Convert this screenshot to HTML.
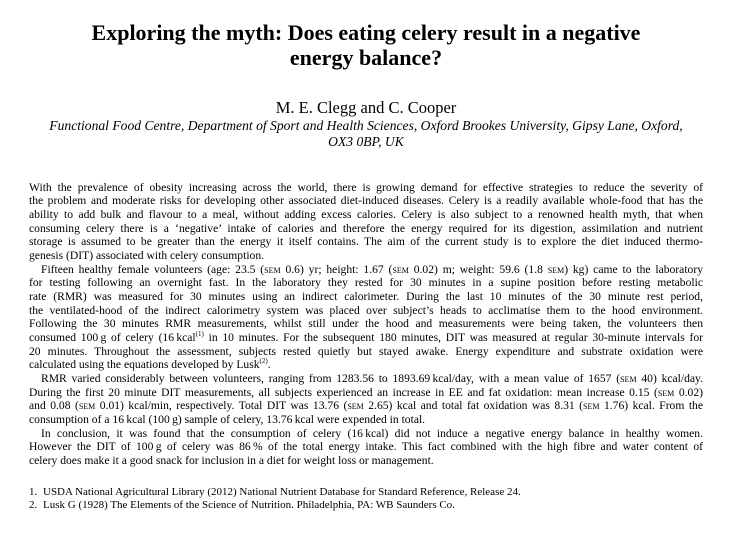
<!DOCTYPE html>
<html><head><meta charset="utf-8">
<style>
html,body{margin:0;padding:0;background:#fff;}
body{width:732px;height:545px;position:relative;overflow:hidden;color:#000;font-family:"Liberation Serif","Times New Roman",serif;}
.abs{position:absolute;}
.title{left:0;width:732px;text-align:center;font-weight:bold;font-size:22px;line-height:25px;top:20px;}
.auth{left:0;width:732px;text-align:center;font-size:16.5px;line-height:18px;top:99px;}
.aff{left:0;width:732px;text-align:center;font-style:italic;font-size:13.6px;line-height:16px;top:117.6px;}
.body{left:29px;width:674px;top:180.8px;font-size:11.6px;line-height:13.65px;}
.body div{text-align:justify;text-align-last:justify;}
.body div.e{text-align-last:left;}
.body div.i{text-indent:12px;}
.sc{font-variant:small-caps;}
sup{font-size:7px;line-height:0;vertical-align:5px;}
.refs{left:29px;top:486px;font-size:11px;line-height:13px;}
.refs span{display:inline-block;width:14px;}
</style></head><body>
<div class="abs title">Exploring the myth: Does eating celery result in a negative<br>energy balance?</div>
<div class="abs auth">M. E. Clegg and C. Cooper</div>
<div class="abs aff">Functional Food Centre, Department of Sport and Health Sciences, Oxford Brookes University, Gipsy Lane, Oxford,<br>OX3 0BP, UK</div>
<div class="abs body">
<div>With the prevalence of obesity increasing across the world, there is growing demand for effective strategies to reduce the severity of</div>
<div>the problem and moderate risks for developing other associated diet-induced diseases. Celery is a readily available whole-food that has the</div>
<div>ability to add bulk and flavour to a meal, without adding excess calories. Celery is also subject to a renowned health myth, that when</div>
<div>consuming celery there is a ‘negative’ intake of calories and therefore the energy required for its digestion, assimilation and nutrient</div>
<div>storage is assumed to be greater than the energy it itself contains. The aim of the current study is to explore the diet induced thermo-</div>
<div class="e">genesis (DIT) associated with celery consumption.</div>
<div class="i">Fifteen healthy female volunteers (age: 23.5 (<span class="sc">sem</span> 0.6) yr; height: 1.67 (<span class="sc">sem</span> 0.02) m; weight: 59.6 (1.8 <span class="sc">sem</span>) kg) came to the laboratory</div>
<div>for testing following an overnight fast. In the laboratory they rested for 30 minutes in a supine position before resting metabolic</div>
<div>rate (RMR) was measured for 30 minutes using an indirect calorimeter. During the last 10 minutes of the 30 minute rest period,</div>
<div>the ventilated-hood of the indirect calorimetry system was placed over subject’s heads to acclimatise them to the hood environment.</div>
<div>Following the 30 minutes RMR measurements, whilst still under the hood and measurements were being taken, the volunteers then</div>
<div>consumed 100&#8201;g of celery (16&#8201;kcal<sup>(1)</sup> in 10 minutes. For the subsequent 180 minutes, DIT was measured at regular 30-minute intervals for</div>
<div>20 minutes. Throughout the assessment, subjects rested quietly but stayed awake. Energy expenditure and substrate oxidation were</div>
<div class="e">calculated using the equations developed by Lusk<sup>(2)</sup>.</div>
<div class="i">RMR varied considerably between volunteers, ranging from 1283.56 to 1893.69&#8201;kcal/day, with a mean value of 1657 (<span class="sc">sem</span> 40) kcal/day.</div>
<div>During the first 20 minute DIT measurements, all subjects experienced an increase in EE and fat oxidation: mean increase 0.15 (<span class="sc">sem</span> 0.02)</div>
<div>and 0.08 (<span class="sc">sem</span> 0.01) kcal/min, respectively. Total DIT was 13.76 (<span class="sc">sem</span> 2.65) kcal and total fat oxidation was 8.31 (<span class="sc">sem</span> 1.76) kcal. From the</div>
<div class="e">consumption of a 16&#8201;kcal (100&#8201;g) sample of celery, 13.76&#8201;kcal were expended in total.</div>
<div class="i">In conclusion, it was found that the consumption of celery (16&#8201;kcal) did not induce a negative energy balance in healthy women.</div>
<div>However the DIT of 100&#8201;g of celery was 86&#8201;% of the total energy intake. This fact combined with the high fibre and water content of</div>
<div class="e">celery does make it a good snack for inclusion in a diet for weight loss or management.</div>
</div>
<div class="abs refs">
<div><span>1.</span>USDA National Agricultural Library (2012) National Nutrient Database for Standard Reference, Release 24.</div>
<div><span>2.</span>Lusk G (1928) The Elements of the Science of Nutrition. Philadelphia, PA: WB Saunders Co.</div>
</div>
</body></html>
